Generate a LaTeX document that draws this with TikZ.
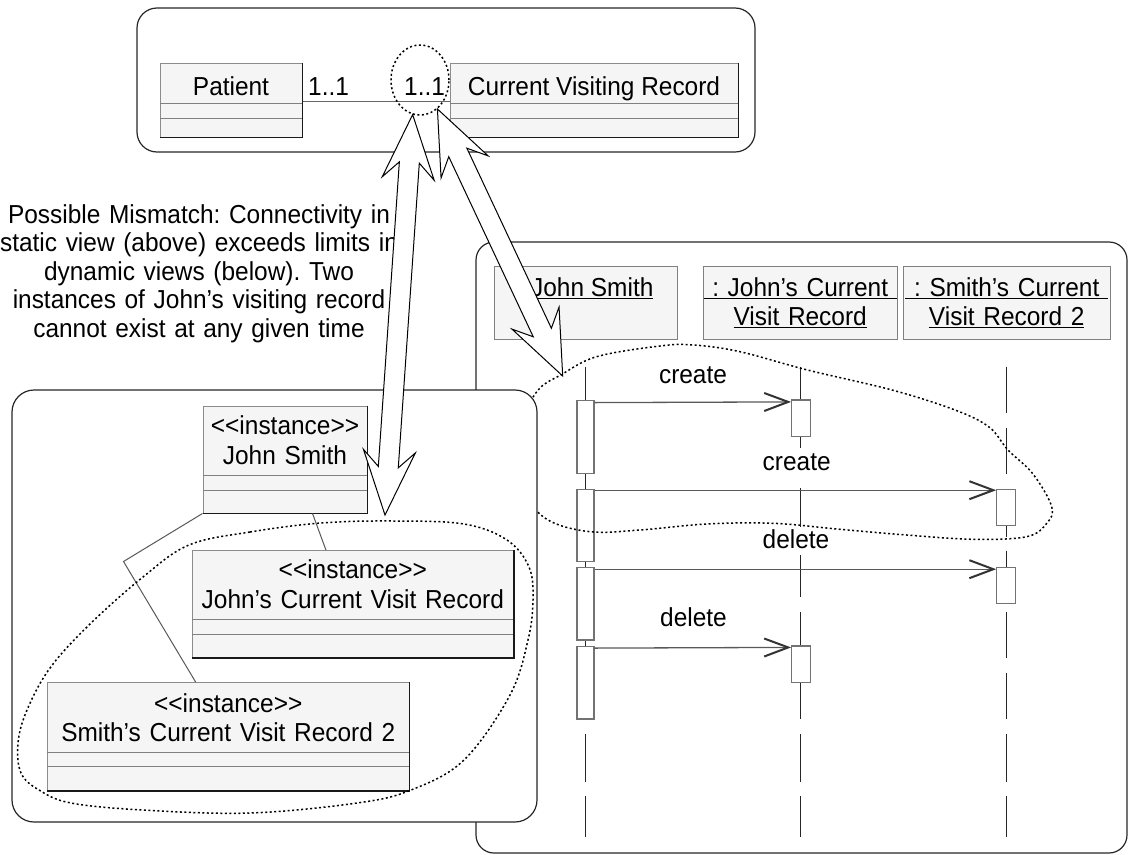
\documentclass[tikz,border=0pt]{standalone}
\usepackage{fontspec}
\setmainfont{Liberation Sans}[FakeStretch=0.94]
\usetikzlibrary{calc,shapes.geometric,arrows.meta}

\newcommand\txtfont{\fontsize{26}{28.5}\selectfont\frenchspacing}
\newcommand\stereo{<{}<instance>{}>}

% hollow two-headed arrow between two points, filled white
\newcommand\dualarrow[2]{%
  \coordinate (da-b1) at ($(#1)!64pt!(#2)$);
  \coordinate (da-j1) at ($(#1)!48pt!(#2)$);
  \coordinate (da-b2) at ($(#2)!64pt!(#1)$);
  \coordinate (da-j2) at ($(#2)!48pt!(#1)$);
  \draw[bigarrow] (#1)
    -- ($(da-b1)!26pt!90:(#2)$) -- ($(da-j1)!10pt!90:(#2)$)
    -- ($(da-j2)!10pt!-90:(#1)$) -- ($(da-b2)!26pt!-90:(#1)$)
    -- (#2)
    -- ($(da-b2)!26pt!90:(#1)$) -- ($(da-j2)!10pt!90:(#1)$)
    -- ($(da-j1)!10pt!-90:(#2)$) -- ($(da-b1)!26pt!-90:(#2)$)
    -- cycle;}

% class box: outline with darker right/bottom edge and two compartment rules
\newcommand\classrows[3]{%
  \draw[rowline] (#1.west |- 0,#2) -- (#1.east |- 0,#2);
  \draw[rowline] (#1.west |- 0,#3) -- (#1.east |- 0,#3);
  \draw[darkedge] (#1.north east) -- (#1.south east) -- (#1.south west);}

\begin{document}
\begin{tikzpicture}[x=1pt,y=-1pt,
  every node/.style={font=\txtfont, text=black},
  txt/.style={inner sep=0pt, anchor=base},
  mtxt/.style={inner sep=0pt, anchor=base, align=center, text width=#1},
  mtxt/.default=340pt,
  roundframe/.style={draw=black!85, line width=1.2pt, rounded corners=#1},
  classbox/.style={draw=black!45, fill=black!4, line width=1pt, inner sep=0pt},
  darkedge/.style={draw=black!90, line width=1.6pt},
  rowline/.style={draw=black!50, line width=1pt},
  hdrbox/.style={draw=black!50, fill=black!4, line width=1pt, inner sep=0pt},
  actbox/.style={draw=black!55, fill=white, line width=1.2pt, inner sep=0pt},
  lifeline/.style={draw=black!85, line width=1pt},
  msg/.style={draw=black!65, line width=1.3pt,
    -{Straight Barb[length=24pt,width=18pt,line width=2pt,color=black!80]}},
  blob/.style={draw=black, line width=1.5pt, dash pattern=on 2pt off 2.5pt},
  bigarrow/.style={draw=black, fill=white, line width=1pt, line join=miter},
]
\useasboundingbox (0,0) rectangle (1131,854);

% ---------- static view: class diagram ----------
\draw[roundframe=20pt] (137,8) rectangle (755,152);
\node[classbox, minimum width=142pt, minimum height=74pt] (pat) at (231,100) {};
\classrows{pat}{103}{118}
\node[txt] (patT) at (231,95) {Patient};
\node[classbox, minimum width=288pt, minimum height=74pt] (cvr) at (594,100) {};
\classrows{cvr}{103}{118}
\node[txt] (cvrT) at (594,95) {Current Visiting Record};
\draw[draw=black!60, line width=1pt] ([yshift=-1pt]pat.east) -- ([yshift=-1pt]cvr.west);
\node[txt, anchor=base west] (m1) at (308,95) {1..1};
\node[txt, anchor=base west] (m2) at (404,95) {1..1};
\node[blob, ellipse, minimum width=58pt, minimum height=70pt, inner sep=0pt] (mult) at (420,80) {};

% ---------- dynamic view: sequence diagram ----------
\draw[roundframe=18pt] (476,242) rectangle (1127,853);
\node[hdrbox, minimum width=183pt, minimum height=72.6pt] (hdrA) at (585.5,303) {};
\node[hdrbox, minimum width=193.7pt, minimum height=72.6pt] (hdrB) at (800.2,303) {};
\node[hdrbox, minimum width=206.7pt, minimum height=72.6pt] (hdrC) at (1006.7,303) {};
\node[txt] (hdrAt) at (585.5,296.7) {\underline{: John Smith}};
\node[mtxt=210pt] (hdrBt) at (800.2,296.7) {\underline{\ : John’s Current\ }\\\underline{Visit Record}};
\node[mtxt=215pt] (hdrCt) at (1006.7,296.7) {\underline{\ : Smith’s Current\ }\\\underline{Visit Record 2}};

% lifelines
\draw[lifeline] (585.5,366.7) -- (585.5,719);
\draw[lifeline] (585.5,734) -- (585.5,781.7);
\draw[lifeline] (585.5,796) -- (585.5,836.7);
\draw[lifeline] (800.7,366.7) -- (800.7,448.3);
\draw[lifeline] (800.7,488.3) -- (800.7,526.7);
\draw[lifeline] (800.7,555) -- (800.7,596.7);
\draw[lifeline] (800.7,611.7) -- (800.7,719);
\draw[lifeline] (800.7,734) -- (800.7,782);
\draw[lifeline] (800.7,796) -- (800.7,836.7);
\draw[lifeline] (1006.3,366.7) -- (1006.3,412.7);
\draw[lifeline] (1006.3,427.7) -- (1006.3,474.3);
\draw[lifeline] (1006.3,489.3) -- (1006.3,536.7);
\draw[lifeline] (1006.3,550.7) -- (1006.3,604);
\draw[lifeline] (1006.3,611.7) -- (1006.3,658);
\draw[lifeline] (1006.3,673) -- (1006.3,719);
\draw[lifeline] (1006.3,734) -- (1006.3,782);
\draw[lifeline] (1006.3,796) -- (1006.3,836.7);

% activations
\node[actbox, minimum width=17pt, minimum height=72.6pt] (ja1) at (585.5,437) {};
\node[actbox, minimum width=17pt, minimum height=72.4pt] (ja2) at (585.5,525.5) {};
\node[actbox, minimum width=17pt, minimum height=72.7pt] (ja3) at (585.5,603.65) {};
\node[actbox, minimum width=17pt, minimum height=72.3pt] (ja4) at (585.5,682.85) {};
\node[actbox, minimum width=18.5pt, minimum height=36.7pt] (ra1) at (800.9,418.35) {};
\node[actbox, minimum width=18.5pt, minimum height=36.3pt] (ra2) at (800.9,664.15) {};
\node[actbox, minimum width=19pt, minimum height=36.4pt] (sa1) at (1006.3,507.5) {};
\node[actbox, minimum width=19pt, minimum height=36.4pt] (sa2) at (1006.3,585.5) {};

% messages
\draw[msg] ([yshift=-2.5pt]ja1.north east) -- ([yshift=-2.5pt]ra1.north west);
\draw[msg] ([yshift=-1.5pt]ja2.north east) -- ([yshift=-1.5pt]sa1.north west);
\draw[msg] ([yshift=-2.5pt]ja3.north east) -- ([yshift=-2.5pt]sa2.north west);
\draw[msg] ([yshift=-2pt]ja4.north east) -- ([yshift=-2pt]ra2.north west);
\node[txt] (lc1) at (693,383) {create};
\node[txt] (lc2) at (796.7,470) {create};
\node[txt] (ld1) at (796,548) {delete};
\node[txt] (ld2) at (693.5,626) {delete};

% grouping of the two create messages
\draw[blob] plot[smooth cycle, tension=0.6] coordinates {
  (540,388) (560.7,375) (596.6,356.7) (659.9,346) (693.6,345) (740,351.7)
  (807.5,370) (892,390) (955,410) (989,427) (1008,450) (1033,474)
  (1051.7,506.7) (1046.7,523.3) (1026.7,536.7) (973.3,539.3) (906.7,535)
  (840,529.3) (773.3,523.3) (706.7,524) (640,530) (590,531.7) (548,520)
  (528,495) (524,450) (528,410)};

% ---------- dynamic view: object diagram ----------
\draw[roundframe=22pt, fill=white] (12,390) rectangle (537,822);
\node[classbox, minimum width=164pt, minimum height=107pt] (js) at (285,459.5) {};
\classrows{js}{475}{490}
\node[mtxt=200pt] (jsT) at (285,434) {\stereo\\[1.5pt]John Smith};
\node[classbox, minimum width=321.6pt, minimum height=106.6pt] (jcv) at (352.8,604) {};
\classrows{jcv}{619.3}{634}
\node[mtxt=330pt] (jcvT) at (352.8,578.5) {\stereo\\[1pt]John’s Current Visit Record};
\node[classbox, minimum width=361.5pt, minimum height=108pt] (scv) at (228.25,736.7) {};
\classrows{scv}{752.7}{766.7}
\node[mtxt=360pt] (scvT) at (228.25,712.5) {\stereo\\[0pt]Smith’s Current Visit Record 2};
\draw[draw=black!65, line width=1pt] ([xshift=27.5pt]js.south) -- ([xshift=-26.8pt]jcv.north);
\draw[draw=black!65, line width=1pt] (js.south west) -- ++(-79,48) -- ([xshift=-32.5pt]scv.north);

\draw[blob] plot[smooth cycle, tension=0.6] coordinates {
  (189,545) (250,532) (321,523) (393,521) (464,524) (507,540) (529,567)
  (533,600) (528,640) (510,695) (464,760) (411,790) (357,803) (250,813)
  (143,810) (71,803) (39,790) (21,773) (18,743) (27,710) (50,668)
  (89,625) (143,577)};

% ---------- annotation ----------
\node[mtxt=420pt] (note) at (199,223.3) {Possible Mismatch: Connectivity in\\
  static view (above) exceeds limits in\\
  dynamic views (below). Two\\
  instances of John’s visiting record\\
  cannot exist at any given time};

\coordinate (aEnd) at (385,515);
\coordinate (bEnd) at (562.7,376);
\dualarrow{mult.-102}{aEnd}
\dualarrow{mult.-59}{bEnd}
\end{tikzpicture}
\end{document}
